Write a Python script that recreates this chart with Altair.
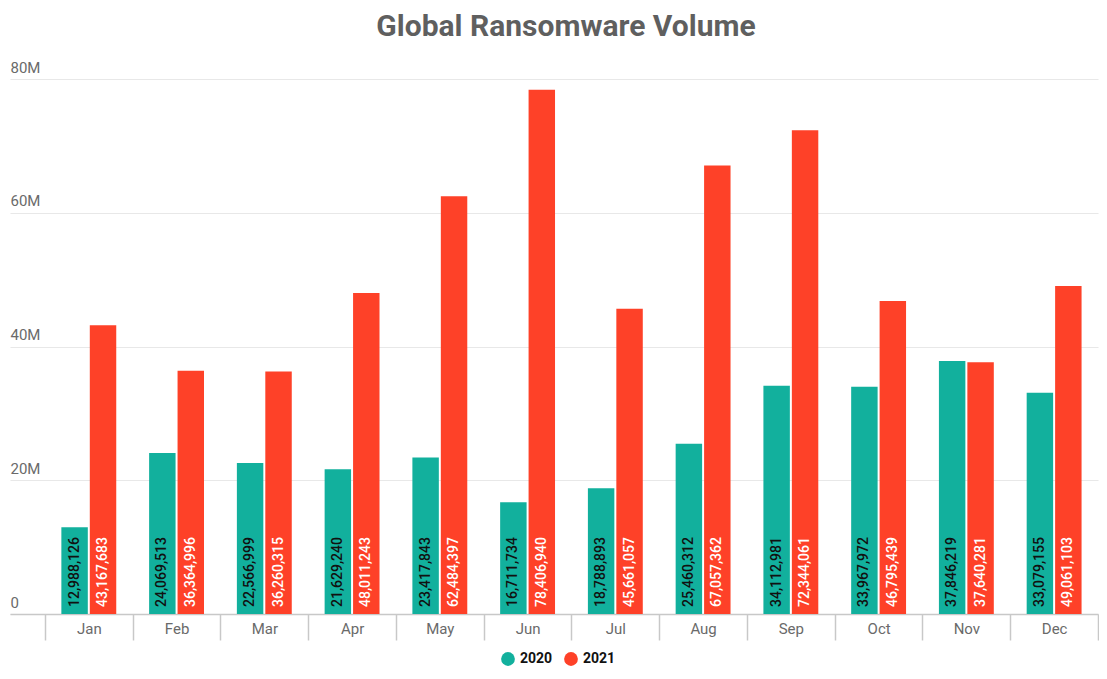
import altair as alt
import pandas as pd

months = ["Jan", "Feb", "Mar", "Apr", "May", "Jun", "Jul", "Aug", "Sep", "Oct", "Nov", "Dec"]
years = ["2020", "2021"]
v2020 = [12988126, 24069513, 22566999, 21629240, 23417843, 16711734,
         18788893, 25460312, 34112981, 33967972, 37846219, 33079155]
v2021 = [43167683, 36364996, 36260315, 48011243, 62484397, 78406940,
         45661057, 67057362, 72344061, 46795439, 37640281, 49061103]
y_ticks = [0, 20000000, 40000000, 60000000, 80000000]
colors = ["#12B09D", "#FE4128"]

rows = []
for m, a, b in zip(months, v2020, v2021):
    rows.append({"month": m, "year": "2020", "value": a, "label": f"{a:,}"})
    rows.append({"month": m, "year": "2021", "value": b, "label": f"{b:,}"})
df = pd.DataFrame(rows)

x_enc = alt.X(
    "month:N", sort=months, title=None,
    scale=alt.Scale(paddingInner=0, paddingOuter=0.199, align=1),
    axis=alt.Axis(
        tickBand="extent", tickSize=26, tickColor="#c8c8c8", tickWidth=1.5,
        domainColor="#c8c8c8", domainWidth=1.5, labelAngle=0,
        labelPadding=-19, labelBaseline="top", labelFontSize=15,
        labelColor="#6a6a6a", labelFont="Roboto", grid=False,
    ),
)
xo_enc = alt.XOffset("year:N", sort=years,
                     scale=alt.Scale(paddingInner=0.07, paddingOuter=0.578))
y_scale = alt.Scale(domain=[0, 80000000], nice=False)

bars = alt.Chart(df).mark_bar().encode(
    x=x_enc,
    xOffset=xo_enc,
    y=alt.Y("value:Q", scale=y_scale, title=None,
            axis=alt.Axis(
                values=y_ticks,
                labelExpr="datum.value == 0 ? '0' : (datum.value / 1000000) + 'M'",
                ticks=False, domain=False, labelAlign="left", labelPadding=0,
                labelBaseline="bottom", labelOffset=-4, labelFontSize=15,
                labelColor="#6a6a6a", labelFont="Roboto",
                gridColor="#e8e8e8", gridWidth=1.2,
            )),
    color=alt.Color("year:N", sort=years,
                    scale=alt.Scale(domain=years, range=colors),
                    legend=alt.Legend(title=None, orient="none", direction="horizontal",
                                      legendX=490, legendY=572,
                                      symbolType="circle", symbolSize=190,
                                      symbolOpacity=1, labelFontSize=14,
                                      labelFontWeight="bold", labelColor="#111111",
                                      labelFont="Roboto", columnPadding=10)),
)

texts = alt.Chart(df).mark_text(
    angle=270, align="left", baseline="middle", dx=7,
    font="Roboto", fontWeight=500, fontSize=14,
).encode(
    x=alt.X("month:N", sort=months),
    xOffset=alt.XOffset("year:N", sort=years),
    y=alt.datum(0),
    text="label:N",
    color=alt.condition(alt.datum.year == "2020", alt.value("#111111"), alt.value("#ffffff")),
)

chart = alt.layer(bars, texts).properties(
    width=1088, height=535,
    padding={"left": 2, "top": 4, "right": 0, "bottom": 0},
    title=alt.TitleParams("Global Ransomware Volume", fontSize=30, font="Roboto",
                          fontWeight="bold", color="#5f5f5f", anchor="middle",
                          offset=18, dx=12),
).configure_view(stroke=None)

chart.save("out.html", embed_options={"renderer": "svg", "actions": False})
